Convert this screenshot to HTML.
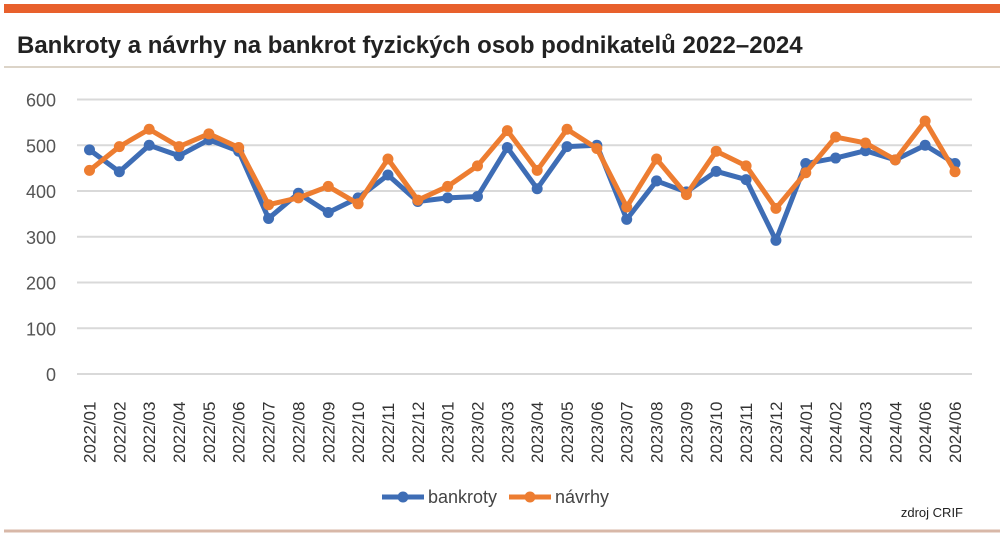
<!DOCTYPE html>
<html><head><meta charset="utf-8">
<style>
body{margin:0;background:#fff;width:1000px;height:536px;overflow:hidden;font-family:"Liberation Sans",sans-serif;}
</style></head>
<body>
<svg width="1000" height="536" viewBox="0 0 1000 536" xmlns="http://www.w3.org/2000/svg">
<rect x="4" y="4" width="996" height="9" fill="#e8602c"/>
<text x="17" y="53" font-size="24" font-weight="bold" fill="#222">Bankroty a návrhy na bankrot fyzických osob podnikatelů 2022–2024</text>
<line x1="4" y1="67" x2="1000" y2="67" stroke="#b8a890" stroke-width="1"/>
<g id="grid"></g><g id="yt"></g><g id="xt"></g><g id="series"></g>
<g>
<g>
<line x1="382" y1="497" x2="424" y2="497" stroke="#3e6db5" stroke-width="5"/><circle cx="403" cy="497" r="5.5" fill="#3e6db5"/>
<text x="428" y="503" font-size="18" fill="#444">bankroty</text></g>
<g>
<line x1="509" y1="497" x2="551" y2="497" stroke="#ed7d31" stroke-width="5"/><circle cx="530" cy="497" r="5.5" fill="#ed7d31"/>
<text x="555" y="503" font-size="18" fill="#444">návrhy</text></g>
</g>
<text x="963" y="517" font-size="13" fill="#222" text-anchor="end">zdroj CRIF</text>
<line x1="4" y1="531" x2="1000" y2="531" stroke="#d8b8a8" stroke-width="3"/>
</svg>
<script>
const categories=["2022/01","2022/02","2022/03","2022/04","2022/05","2022/06","2022/07","2022/08","2022/09","2022/10","2022/11","2022/12","2023/01","2023/02","2023/03","2023/04","2023/05","2023/06","2023/07","2023/08","2023/09","2023/10","2023/11","2023/12","2024/01","2024/02","2024/03","2024/04","2024/06","2024/06"];
const bankroty=[490,442,500,477,512,487,340,395,353,385,435,377,385,388,495,405,497,500,338,422,398,443,425,292,460,472,488,468,500,460];
const navrhy=[445,497,535,497,525,495,370,385,410,372,470,380,410,455,532,445,535,493,365,470,392,487,455,362,440,518,505,468,553,442];
const yTicks=[0,100,200,300,400,500,600];
const NS="http://www.w3.org/2000/svg";
const x0=89.5,x1=955,y0=374,y600=99.5;
const xs=i=>x0+(x1-x0)*i/(categories.length-1);
const ys=v=>y0-(y0-y600)*v/600;
function mk(t,a,p){const e=document.createElementNS(NS,t);for(const k in a)e.setAttribute(k,a[k]);p.appendChild(e);return e;}
const grid=document.getElementById('grid'),yt=document.getElementById('yt'),xt=document.getElementById('xt'),ser=document.getElementById('series');
yTicks.forEach(v=>{
 const l=mk('line',{x1:77,x2:972,y1:ys(v),y2:ys(v),stroke:'#d9d9d9','stroke-width':2},grid);
 
 
 const t=mk('text',{x:56,y:ys(v)+7,'font-size':18,fill:'#555','text-anchor':'end'},yt);
 t.textContent=v;
 
 
});
categories.forEach((c,i)=>{
 const t=mk('text',{transform:`translate(${xs(i)+6},${463}) rotate(-90)`,'font-size':17,fill:'#333'},xt);
 t.textContent=c;
 
 
});
function draw(vals,col,name){
 const g=mk('g',{},ser);
 
 
 const p=mk('polyline',{points:vals.map((v,i)=>xs(i)+','+ys(v)).join(' '),fill:'none',stroke:col,'stroke-width':5,'stroke-linejoin':'round'},g);
 
 
 vals.forEach((v,i)=>{
  const c=mk('circle',{cx:xs(i),cy:ys(v),r:5.5,fill:col},g);
  
  
 });
}
draw(bankroty,'#3e6db5','bankroty');
draw(navrhy,'#ed7d31','navrhy');
</script>
</body></html>
